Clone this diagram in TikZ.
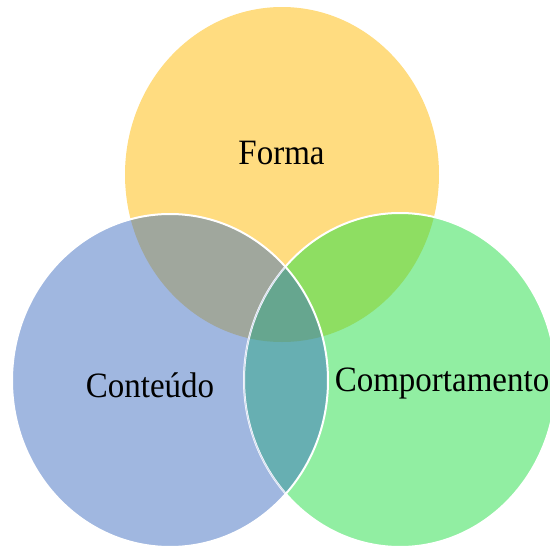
\documentclass[tikz,border=0pt]{standalone}
\usepackage{fontspec}
\setmainfont{Liberation Serif}
\definecolor{cyellow}{HTML}{FFDC80}
\definecolor{cblue}{HTML}{A0B7E0}
\definecolor{cgreen}{HTML}{91EEA2}
\definecolor{cyb}{HTML}{A0A79D}
\definecolor{cyg}{HTML}{8EDE62}
\definecolor{cbg}{HTML}{67AFB2}
\definecolor{cybg}{HTML}{66A68F}
\def\Etop{(282,174.5) ellipse [x radius=157pt, y radius=167.5pt]}
\def\Eleft{(170,380.5) ellipse [x radius=158pt, y radius=166.5pt]}
\def\Eright{(400,380) ellipse [x radius=156pt, y radius=167pt]}
\tikzset{
  lbl/.style={anchor=base, inner sep=0pt, font=\fontsize{33}{40}\selectfont, text=black},
  rim/.style={draw=white, line width=2pt}
}
\begin{document}
\begin{tikzpicture}[x=1pt, y=-1pt]
\useasboundingbox (0,0) rectangle (550,549);
\clip (0,0) rectangle (550,549);
% base fills
\fill[cyellow] \Etop;
\fill[cblue] \Eleft;
\fill[cgreen] \Eright;
% pairwise overlaps
\begin{scope}\clip \Etop; \fill[cyb] \Eleft; \end{scope}
\begin{scope}\clip \Etop; \fill[cyg] \Eright; \end{scope}
\begin{scope}\clip \Eleft; \fill[cbg] \Eright; \end{scope}
% triple overlap
\begin{scope}\clip \Etop; \clip \Eleft; \fill[cybg] \Eright; \end{scope}
% outlines
\draw[rim] \Eright;
\begin{scope}\clip \Eleft; \draw[draw=cblue!55!white, line width=1pt, opacity=0.8] \Eright; \end{scope}
\draw[rim] \Eleft;
% labels
\node[lbl] (forma) at (281.5,164) {\scalebox{1}[1.08]{Forma}};
\node[lbl] (conteudo) at (150,397) {\scalebox{1}[1.08]{Conteúdo}};
\node[lbl] (comport) at (442,391.5) {\scalebox{1}[1.08]{Comportamento}};
\end{tikzpicture}
\end{document}
